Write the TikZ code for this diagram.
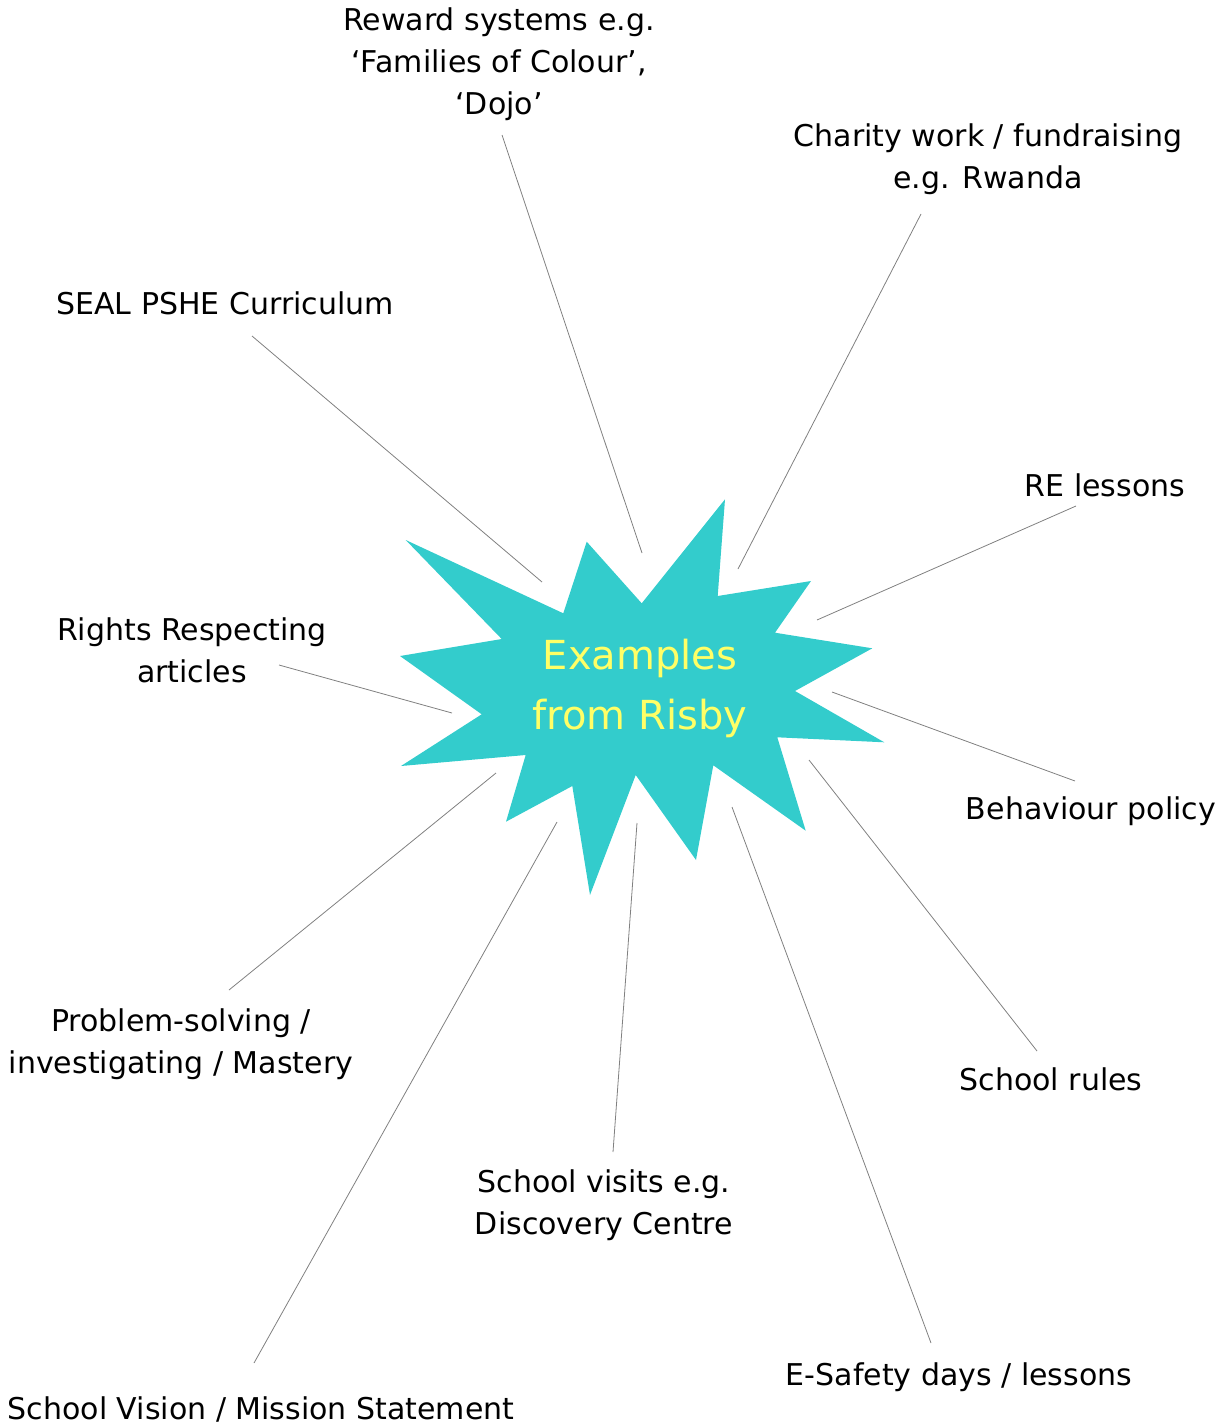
\documentclass[tikz,border=0pt]{standalone}
\usepackage{fontspec}
\setmainfont{DejaVu Sans}
\definecolor{burst}{HTML}{33CCCC}
\definecolor{burstText}{HTML}{FFFF66}
\definecolor{lineGray}{HTML}{808080}
\begin{document}
\begin{tikzpicture}[x=0.75pt,y=-0.75pt,
  lbl/.style={align=center,inner sep=0pt,font=\fontsize{22.5}{31.5}\selectfont,text=black},
  conn/.style={draw=lineGray,line width=0.6pt}]
\useasboundingbox (0,0) rectangle (1226,1424);
% starburst
\fill[burst] (405.7,540) -- (563.3,613.3) -- (586.7,541.7) -- (641.7,603.3) -- (725,499.3)
  -- (717.7,596) -- (811,581) -- (775,632.7) -- (872.3,648.3) -- (795,691)
  -- (884.3,742.3) -- (777.3,737.3) -- (805.7,830.7) -- (713.3,765.3) -- (696,860)
  -- (635.7,775) -- (590,895) -- (572.3,786) -- (506,821.7) -- (525.7,755)
  -- (401,766) -- (481.7,714.3) -- (400,656) -- (501.7,639) -- cycle;
\node[align=center,inner sep=0pt,text=burstText,font=\fontsize{30}{45}\selectfont] (center) at (640,688) {Examples\\from Risby};
% labels
\node[lbl] (reward) at (499,64) {Reward systems e.g.\\‘Families of Colour’,\\‘Dojo’};
\node[lbl] (charity) at (988,159) {Charity work / fundraising\\e.g. Rwanda};
\node[lbl] (seal) at (225,303) {SEAL PSHE Curriculum};
\node[lbl] (re) at (1105,485) {RE lessons};
\node[lbl] (rights) at (192,650) {Rights Respecting\\articles};
\node[lbl] (behav) at (1091,811) {Behaviour policy};
\node[lbl] (problem) at (181,1044) {Problem-solving /\\investigating / Mastery};
\node[lbl] (rules) at (1051,1079) {School rules};
\node[lbl] (visits) at (604,1205) {School visits e.g.\\Discovery Centre};
\node[lbl] (vision) at (261,1409) {School Vision / Mission Statement};
\node[lbl] (esafety) at (959,1377) {E-Safety days / lessons};
% connector ends
\coordinate (rewardA) at (502,135);   \coordinate (rewardB) at (642,553);
\coordinate (charityA) at (921,214);  \coordinate (charityB) at (738,569);
\coordinate (sealA) at (252,336);     \coordinate (sealB) at (542,582);
\coordinate (reA) at (1076,506);      \coordinate (reB) at (817,620);
\coordinate (rightsA) at (279,665);   \coordinate (rightsB) at (452,713);
\coordinate (behavA) at (1075,781);   \coordinate (behavB) at (832,692);
\coordinate (problemA) at (229,990);  \coordinate (problemB) at (496,773);
\coordinate (rulesA) at (1037,1051);  \coordinate (rulesB) at (809,760);
\coordinate (visionA) at (254,1363);  \coordinate (visionB) at (557,822);
\coordinate (visitsA) at (613,1152);  \coordinate (visitsB) at (637,823);
\coordinate (esafetyA) at (931,1343); \coordinate (esafetyB) at (732,807);
\foreach \n in {reward,charity,seal,re,rights,behav,problem,rules,vision,visits,esafety}
  \draw[conn] (\n A) -- (\n B);
\end{tikzpicture}
\end{document}
